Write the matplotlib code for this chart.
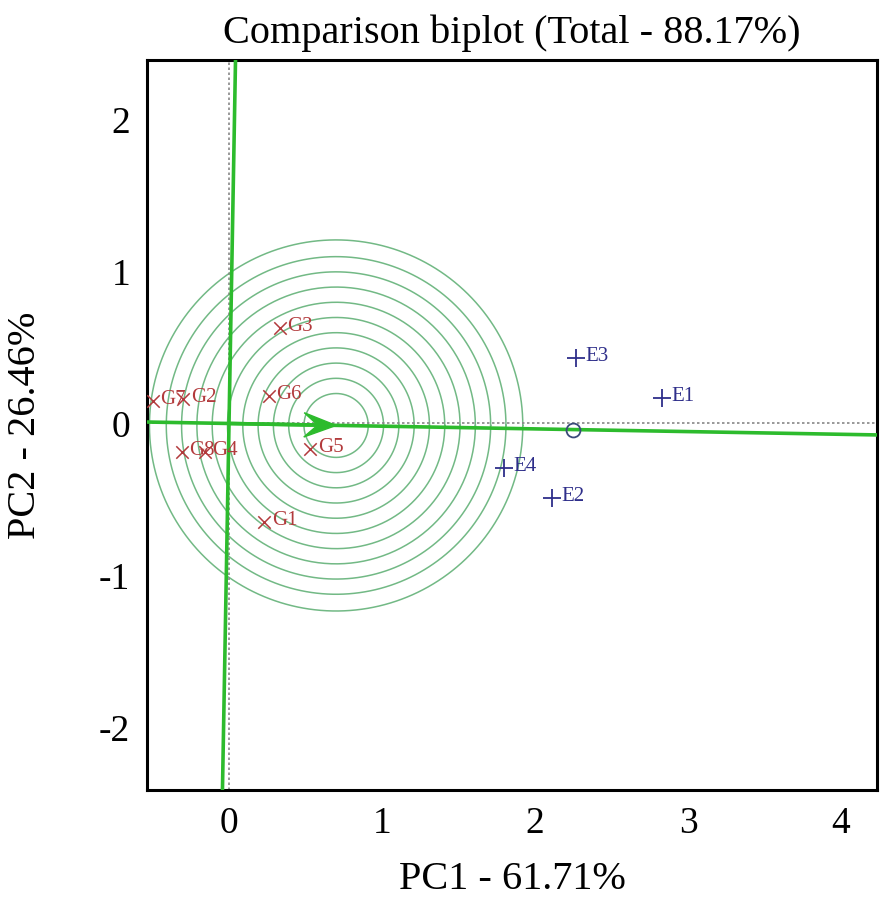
import matplotlib
matplotlib.use("Agg")
import matplotlib.pyplot as plt
from matplotlib.patches import Polygon
import numpy as np

# Data
genotypes = ["G1", "G2", "G3", "G4", "G5", "G6", "G7", "G8"]
gen_pc1 = [0.23, -0.30, 0.33, -0.16, 0.53, 0.26, -0.50, -0.31]
gen_pc2 = [-0.645, 0.16, 0.625, -0.19, -0.17, 0.18, 0.145, -0.19]

environments = ["E1", "E2", "E3", "E4"]
env_pc1 = [2.83, 2.11, 2.27, 1.80]
env_pc2 = [0.17, -0.49, 0.43, -0.29]

aea_point = (2.25, -0.04)     # average environment (small circle)
ideal_point = (0.70, -0.013)  # ideal genotype (arrow tip / ring centre)
ring_radii = [0.21, 0.31, 0.41, 0.51, 0.61, 0.71, 0.81, 0.91, 1.01, 1.11, 1.22]

xlim = (-0.536, 4.235)
ylim = (-2.41, 2.39)

plt.rcParams['font.family'] = ['Liberation Serif', 'DejaVu Serif']
plt.rcParams['axes.unicode_minus'] = False

fig = plt.figure(figsize=(8.86, 9.16), dpi=100)
ax = fig.add_axes([147/886, 1-790/916, 730/886, 730/916])
ax.set_xlim(*xlim)
ax.set_ylim(*ylim)

green = '#2dbb2d'
ring_col = '#72b985'

# concentric rings
theta = np.linspace(0, 2*np.pi, 400)
for r in ring_radii:
    ax.plot(ideal_point[0] + r*np.cos(theta), ideal_point[1] + r*np.sin(theta),
            color=ring_col, lw=1.1, zorder=1)

# dotted reference axes
ax.axhline(0, color='#888888', lw=1.2, ls=(0, (1.5, 1.5)), zorder=2)
ax.axvline(0, color='#888888', lw=1.2, ls=(0, (1.5, 1.5)), zorder=2)

# average environment axis through origin and AEA point
slope = aea_point[1] / aea_point[0]
xs = np.array(xlim)
ax.plot(xs, slope*xs, color=green, lw=2.6, zorder=3)
# perpendicular through origin
ys = np.array(ylim)
ax.plot(-slope*ys, ys, color=green, lw=2.6, zorder=3)

# arrow toward ideal genotype (notched head)
d = np.array(ideal_point) / np.hypot(*ideal_point)
n = np.array([-d[1], d[0]])
tip = np.array(ideal_point)
hl, hw, notch = 0.21, 0.08, 0.12
back = tip - hl * d
head = [tip, back + hw * n, tip - notch * d, back - hw * n]
ax.plot([0, (tip - notch*d)[0]], [0, (tip - notch*d)[1]], color=green, lw=2.6, zorder=4)
ax.add_patch(Polygon(head, closed=True, facecolor=green, edgecolor=green, lw=1, zorder=4))

# AEA circle
ax.plot([aea_point[0]], [aea_point[1]], marker='o', ms=10, mfc='none',
        mec='#3a4a7a', mew=1.3, zorder=5)

gcol = '#b23a3c'
ecol = '#2e2e8a'
ax.scatter(gen_pc1, gen_pc2, marker='x', s=80, color=gcol, linewidths=1.1, zorder=6)
for nm, x, y in zip(genotypes, gen_pc1, gen_pc2):
    ax.text(x + 0.05, y + 0.01, nm, color=gcol, fontsize=15, va='center', ha='left', zorder=7)

ax.scatter(env_pc1, env_pc2, marker='+', s=180, color=ecol, linewidths=1.3, zorder=6)
for nm, x, y in zip(environments, env_pc1, env_pc2):
    ax.text(x + 0.06, y + 0.01, nm, color=ecol, fontsize=15, va='center', ha='left', zorder=7)

ax.set_xticks([0, 1, 2, 3, 4])
ax.set_yticks([-2, -1, 0, 1, 2])
ax.tick_params(length=0, labelsize=27, pad=12)
for s in ax.spines.values():
    s.set_linewidth(2.2)

ax.set_title('Comparison biplot (Total - 88.17%)', fontsize=29, pad=12)
ax.set_xlabel('PC1 - 61.71%', fontsize=29, labelpad=14)
ax.set_ylabel('PC2 - 26.46%', fontsize=29, labelpad=40)

fig.savefig('out.png', dpi=100)
